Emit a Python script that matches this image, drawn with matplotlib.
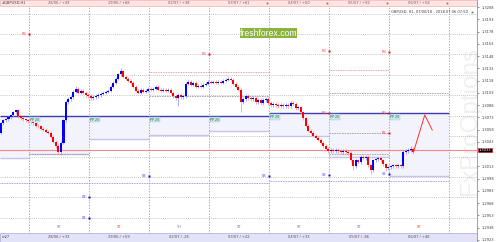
import numpy as np
import matplotlib
matplotlib.use("Agg")
import matplotlib.pyplot as plt
from matplotlib.patches import Rectangle
from matplotlib.transforms import blended_transform_factory

# hourly candles (closes, open = previous close)
first_open = 1.30543
closes = [
    1.30655, 1.30693, 1.30705, 1.3073, 1.30755, 1.30793, 1.30818, 1.30743, 1.30718, 1.30705,
    1.30693, 1.3068, 1.30668, 1.30655, 1.3063, 1.30618, 1.30593, 1.3058, 1.30555, 1.30543,
    1.30493, 1.3043, 1.3038, 1.30305, 1.30418, 1.30693, 1.30918, 1.30955, 1.3098, 1.31043,
    1.3108, 1.3103, 1.31055, 1.3103, 1.31005, 1.30993, 1.30968, 1.3098, 1.30993, 1.31005,
    1.31018, 1.3103, 1.31043, 1.31055, 1.31105, 1.31155, 1.31205, 1.31255, 1.31293, 1.3123,
    1.31205, 1.3118, 1.31155, 1.31105, 1.31055, 1.3103, 1.31068, 1.31043, 1.31055, 1.3108,
    1.31068, 1.3108, 1.31105, 1.31068, 1.31055, 1.31068, 1.31055, 1.31068, 1.3103, 1.30993,
    1.30968, 1.31005, 1.3098, 1.30993, 1.31143, 1.31168, 1.3113, 1.31155, 1.31105, 1.31118,
    1.31105, 1.3113, 1.31143, 1.31168, 1.31155, 1.31168, 1.31155, 1.31168, 1.31155, 1.3118,
    1.31193, 1.31205, 1.31193, 1.31143, 1.31105, 1.31068, 1.30918, 1.30955, 1.30993, 1.30968,
    1.30955, 1.30968, 1.30918, 1.30943, 1.30905, 1.30943, 1.30955, 1.30905, 1.3088, 1.30893,
    1.3088, 1.30868, 1.3088, 1.30868, 1.3088, 1.30868, 1.30905, 1.30893, 1.30843, 1.30855,
    1.30793, 1.30718, 1.3063, 1.30568, 1.30543, 1.30505, 1.3048, 1.30455, 1.30418, 1.3038,
    1.30343, 1.30318, 1.3033, 1.30318, 1.3033, 1.30318, 1.30305, 1.30318, 1.30305, 1.30293,
    1.30205, 1.3013, 1.30205, 1.3018, 1.30243, 1.3023, 1.30243, 1.30143, 1.3008, 1.30205,
    1.30218, 1.3023, 1.30205, 1.30155, 1.30105, 1.30118, 1.3013, 1.30143, 1.3013, 1.30143,
    1.3013, 1.30305, 1.30318, 1.3033, 1.30343, 1.30305,
]
# wicks that reach further than the usual couple of pips
long_highs = {48: 1.3133, 164: 1.3038, 30: 1.3112}
long_lows = {24: 1.30268, 71: 1.30868, 96: 1.30793, 141: 1.3008, 148: 1.3003, 154: 1.3007}

current_price = 1.3033
proj_x = [165, 169.5, 172.5]
proj_y = [1.30305, 1.30759, 1.30575]

price_ticks = [1.3208, 1.3193, 1.3178, 1.3163, 1.3148, 1.3133, 1.3118, 1.3103, 1.3088,
               1.3073, 1.3058, 1.3043, 1.3013, 1.2998, 1.2983, 1.2968, 1.2953,
               1.2938, 1.2923]
round_levels = [1.3200, 1.3175, 1.3150, 1.3125, 1.3100, 1.3075, 1.3050, 1.3025,
                1.3000, 1.2975, 1.2950, 1.2925]

day_seps = [11.2, 35.2, 59.2, 83.2, 107.2, 131.2, 155.2, 179.2]
day_top_labels = ["28/06 / +49", "29/06 / +68", "02/07 / +38", "03/07 / +61",
                  "04/07 / +50", "05/07 / +92", "06/07 / +58"]
day_bottom_labels = ["28/06 / +33", "29/06 / +59", "02/07 / -26", "03/07 / +22",
                     "04/07 / +33", "05/07 / -86", "06/07 / +46"]
day_codes = ["ST", "ST", "TH", "ST", "ST", "ST", "ST"]
day_code_red = [False, True, False, False, False, False, True]

# daily pivot zones: start, end, top, bottom
zone_start = [-0.4, 11.2, 35.2, 59.2, 83.2, 107.2, 131.2, 155.2]
zone_end = [11.2, 35.2, 59.2, 83.2, 107.2, 131.2, 155.2, 179.2]
zone_top = [1.30747, 1.30747, 1.30747, 1.30747, 1.30747, 1.30783, 1.30783, 1.30783]
zone_bottom = [1.30232, 1.30281, 1.30465, 1.30514, 1.30563, 1.30502, 1.30244, 1.30012]

gray_lines = [(59.2, 107.2, 1.30992), (131.2, 179.2, 1.31028), (11.2, 35.2, 1.30281),
              (131.2, 155.2, 1.30281), (131.2, 155.2, 1.30538)]
red_lines = [(59.2, 107.2, 1.31286), (131.2, 155.2, 1.3131)]
blue_lines = [(-0.4, 107.2, 1.29926), (107.2, 179.2, 1.2995)]

r_marks = [(11.2, 1.31751, "R3"), (83.2, 1.31506, "R3"), (131.2, 1.31543, "R3"),
           (155.2, 1.31531, "R3"), (131.2, 1.30783, "R2"), (155.2, 1.30783, "R2"),
           (155.2, 1.30538, "R1")]
s_marks = [(35.2, 1.29754, "S3"), (35.2, 1.29497, "S3"), (59.2, 1.30012, "S3"),
           (107.2, 1.30012, "S3"), (131.2, 1.30024, "S3"), (155.2, 1.30036, "S3")]

W, H = 500, 242
fig = plt.figure(figsize=(W / 100, H / 100), dpi=100)
fig.patch.set_facecolor("white")
ax = fig.add_axes([0, 0, 477 / W, 1])
ax.set_xlim(-0.4, 190.4)
ax.set_ylim(1.29203, 1.321675)
ax.patch.set_alpha(0)

# watermark
ax.text(470 / W, 0.5, "FxProOptions", transform=fig.transFigure, rotation=90,
        fontsize=17.5, family="Liberation Sans", color="#f0f0f0",
        ha="center", va="center", zorder=0.5, clip_on=False)

for lv in round_levels:
    ax.axhline(lv, color="#b4b4b4", lw=0.5, ls=(0, (1.5, 1.5)), zorder=1)

for x0, x1, t, b in zip(zone_start, zone_end, zone_top, zone_bottom):
    ax.add_patch(Rectangle((x0, b), x1 - x0, t - b, facecolor="#f3f3fc",
                           edgecolor="none", zorder=1.2))
    ax.hlines(b, x0, x1, color="#c4c4ee", lw=1.0, zorder=2)
    ax.hlines(t, x0, x1, color="#3c3cb0", lw=1.0, zorder=2)

for x0, x1, lv in gray_lines:
    ax.hlines(lv, x0, x1, color="#a0a0a0", lw=0.6, ls=(0, (2, 1)), zorder=2)
for x0, x1, lv in red_lines:
    ax.hlines(lv, x0, x1, color="#f08080", lw=0.6, ls=(0, (1, 1)), zorder=2)
for x0, x1, lv in blue_lines:
    ax.hlines(lv, x0, x1, color="#8080e0", lw=0.6, ls=(0, (1, 1)), zorder=2)

for x in day_seps:
    ax.axvline(x, color="#8c8c8c", lw=0.5, ls=(0, (2, 2)), zorder=2)

ax.axhline(current_price, color="#f08a8a", lw=0.8, zorder=3)

# candles
c = np.array(closes)
o = np.r_[first_open, c[:-1]]
idx = np.arange(len(c))
hi = np.maximum(o, c) + 0.0002
lo = np.minimum(o, c) - 0.0002
for i, v in long_highs.items():
    hi[i] = v
for i, v in long_lows.items():
    lo[i] = v
up = c >= o
body = np.where(np.abs(c - o) < 0.00005, 0.00006, c - o)
ax.vlines(idx[up], lo[up], hi[up], color="#8a8aff", lw=0.5, zorder=4)
ax.vlines(idx[~up], lo[~up], hi[~up], color="#ff8a8a", lw=0.5, zorder=4)
ax.bar(idx[up], body[up], bottom=o[up], width=0.8, color="#0000ff", lw=0, zorder=5)
ax.bar(idx[~up], body[~up], bottom=o[~up], width=0.8, color="#ff0000", lw=0, zorder=5)

ax.plot(proj_x, proj_y, color="#ff3030", lw=0.7, zorder=5)

# pivot markers
for x, lv, lab in r_marks:
    ax.plot(x, lv, "s", ms=1.4, color="#ff0000", mec="none", zorder=6)
    ax.text(x - 1.2, lv, lab, fontsize=2.5, color="#ff4040", ha="right", va="center", zorder=6)
for x, lv, lab in s_marks:
    ax.plot(x, lv, "s", ms=1.4, color="#0000ff", mec="none", zorder=6)
    ax.text(x - 1.2, lv, lab, fontsize=2.5, color="#4040ff", ha="right", va="center", zorder=6)
for x, t in zip(zone_start[1:], zone_top[1:]):
    ax.text(x + 0.6, t - 0.00022, "PP 20", fontsize=2.3, color="#505050", va="top",
            ha="left", zorder=6,
            bbox=dict(facecolor="#c6ecec", edgecolor="#9ccaca", pad=0.5, lw=0.3))

# header and footer strips
bt = blended_transform_factory(ax.transData, ax.transAxes)
ax.add_patch(Rectangle((0, 1 - 6 / H), 1, 6 / H, transform=ax.transAxes,
                       facecolor="#ffe4e4", edgecolor="#f2b0b0", lw=0.5, zorder=7))
ax.add_patch(Rectangle((0, 0), 1, 9 / H, transform=ax.transAxes,
                       facecolor="#e2e2f8", edgecolor="#a8a8dc", lw=0.5, zorder=7))
for k in range(len(day_top_labels)):
    xc = (day_seps[k] + day_seps[k + 1]) / 2
    ax.text(xc, 1 - 3 / H, day_top_labels[k], transform=bt, fontsize=2.6,
            color="#606060", ha="center", va="center", zorder=8)
    ax.text(xc, 4.5 / H, day_bottom_labels[k], transform=bt, fontsize=2.6,
            color="#505050", ha="center", va="center", zorder=8)
    ax.text(xc, 15 / H, day_codes[k], transform=bt, fontsize=2.6,
            color="#ff4040" if day_code_red[k] else "#808080",
            ha="center", va="center", zorder=8)
for x in day_seps[4:]:
    ax.plot(x - 0.8, 1 - 2.5 / H, "s", ms=1.2, color="#ff3030", mec="none",
            transform=bt, zorder=8, clip_on=False)
ax.text(2 / 477, 4.5 / H, "m27", transform=ax.transAxes, fontsize=2.6,
        color="#505050", va="center", zorder=8)

ax.text(2 / 477, 1 - 3 / H, "#GBPUSD,H1", transform=ax.transAxes, fontsize=2.6,
        color="#404040", va="center", zorder=8)
ax.text(468 / 477, 1 - 12 / H, "GBPUSD, H1, 07/06/18 - 2018.07.06 07:50",
        transform=ax.transAxes, fontsize=2.6, color="#404040", ha="right",
        va="center", zorder=8)
ax.plot(472 / 477, 1 - 12 / H, "s", ms=1.2, color="#20a020", mec="none",
        transform=ax.transAxes, zorder=8)

# freshforex badge
fig.patches.append(Rectangle((240 / W, 1 - 38 / H), 57 / W, 10 / H,
                             transform=fig.transFigure, facecolor="#8cb43c",
                             edgecolor="none", zorder=9))
fig.text(268.5 / W, 1 - 33 / H, "freshforex.com", fontsize=6.2,
         family="Liberation Sans", color="white", ha="center", va="center", zorder=10)

# price scale on the right
ax.yaxis.tick_right()
ax.set_yticks(price_ticks)
ax.set_yticklabels([f"{v:.4f}" for v in price_ticks])
ax.tick_params(axis="y", labelsize=2.6, length=1.5, width=0.4, pad=1.5,
               colors="#404040")
ax.set_xticks([])
for s in ["left", "top", "bottom"]:
    ax.spines[s].set_visible(False)
ax.spines["right"].set_color("#909090")
ax.spines["right"].set_linewidth(0.6)

ax.text(1.004, current_price, f"{current_price:.4f}", transform=ax.get_yaxis_transform(),
        fontsize=2.6, color="white", ha="left", va="center", zorder=10, clip_on=False,
        bbox=dict(facecolor="black", edgecolor="#e00000", pad=0.3, lw=0.4))

fig.savefig("out.png", dpi=100)
